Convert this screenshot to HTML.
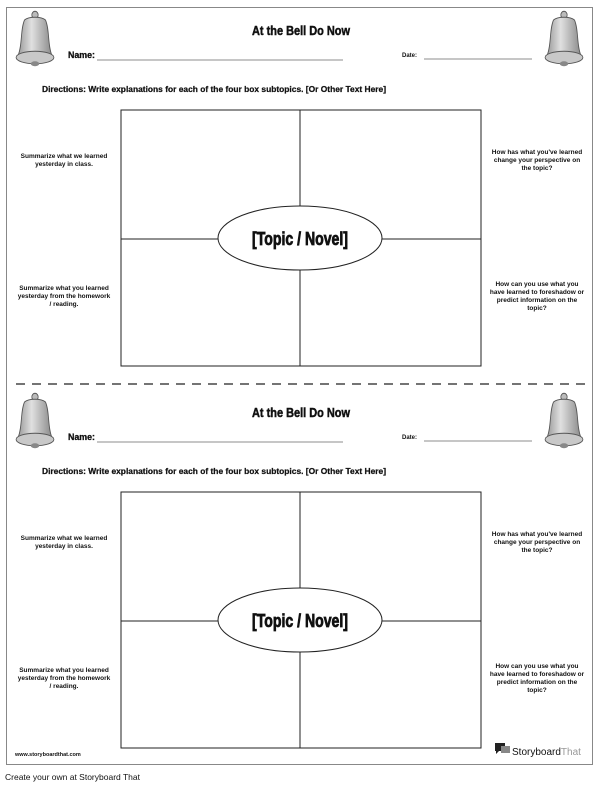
<!DOCTYPE html>
<html><head><meta charset="utf-8"><style>
body{margin:0;width:600px;height:786px;background:#fff;overflow:hidden}
svg{display:block}
text{font-family:"Liberation Sans Narrow","Liberation Sans",sans-serif;font-weight:bold;fill:#111}
.h{stroke:#111;stroke-width:.5}
</style></head><body>
<svg width="600" height="786" viewBox="0 0 600 786">
<defs>
<linearGradient id="bg" x1="0" x2="1"><stop offset="0" stop-color="#9a9a9a"/><stop offset=".4" stop-color="#e0e0e0"/><stop offset="1" stop-color="#8a8a8a"/></linearGradient>
<g id="bell">
<circle cx="0" cy="-24" r="3" fill="#bbb" stroke="#555" stroke-width=".8"/>
<path d="M-10,-20 C-14,-12 -12,0 -16,8 L16,8 C12,0 14,-12 10,-20 C6,-23 -6,-23 -10,-20Z" fill="url(#bg)" stroke="#555" stroke-width=".8"/>
<ellipse cx="0" cy="10" rx="18" ry="5" fill="#c8c8c8" stroke="#555" stroke-width=".8"/>
<ellipse cx="0" cy="15" rx="4" ry="2" fill="#888"/>
</g>
<g id="half">
<use href="#bell" transform="translate(35,45) scale(1.05,1.25)"/>
<use href="#bell" transform="translate(564,45) scale(1.05,1.25)"/>
<text class="h" x="252" y="35" font-size="13" textLength="98" lengthAdjust="spacingAndGlyphs">At the Bell Do Now</text>
<text x="68" y="58" font-size="9" textLength="27" lengthAdjust="spacingAndGlyphs" style="stroke:#111;stroke-width:.3">Name:</text>
<line x1="97" y1="60" x2="343" y2="60" stroke="#666" stroke-width=".8"/>
<text x="402" y="57" font-size="6">Date:</text>
<line x1="424" y1="59" x2="532" y2="59" stroke="#666" stroke-width=".8"/>
<text x="42" y="92" font-size="8.5" textLength="344" lengthAdjust="spacingAndGlyphs" style="stroke:#111;stroke-width:.25">Directions: Write explanations for each of the four box subtopics. [Or Other Text Here]</text>
<rect x="121" y="110" width="360" height="256" fill="none" stroke="#222" stroke-width="1"/>
<line x1="300" y1="110" x2="300" y2="366" stroke="#222"/>
<line x1="121" y1="239" x2="481" y2="239" stroke="#222"/>
<ellipse cx="300" cy="238" rx="82" ry="32" fill="#fff" stroke="#222"/>
<text class="h" x="252" y="245" font-size="18" textLength="96" lengthAdjust="spacingAndGlyphs" style="stroke-width:.8">[Topic / Novel]</text>
<g font-size="6.5" text-anchor="middle">
<text x="64" y="158">Summarize what we learned</text>
<text x="64" y="166">yesterday in class.</text>
<text x="64" y="290">Summarize what you learned</text>
<text x="64" y="298">yesterday from the homework</text>
<text x="64" y="306">/ reading.</text>
<text x="537" y="154">How has what you've learned</text>
<text x="537" y="162">change your perspective on</text>
<text x="537" y="170">the topic?</text>
<text x="537" y="286">How can you use what you</text>
<text x="537" y="294">have learned to foreshadow or</text>
<text x="537" y="302">predict information on the</text>
<text x="537" y="310">topic?</text>
</g>
</g>
</defs>
<rect x="6.5" y="7.5" width="586" height="757" fill="#fff" stroke="#888" stroke-width="1"/>
<use href="#half"/>
<line x1="16" y1="384" x2="586" y2="384" stroke="#222" stroke-width="1.2" stroke-dasharray="9,7"/>
<use href="#half" y="382"/>
<text x="15" y="756" font-size="5.5">www.storyboardthat.com</text>
<path d="M495,743 h10 v8 h-6 l-3,3 v-3 h-1z" fill="#222"/>
<rect x="501" y="746" width="9" height="7" fill="#888"/>
<text x="512" y="755" font-size="10" style="font-family:'Liberation Sans',sans-serif;font-weight:normal" fill="#444">Storyboard<tspan fill="#999">That</tspan></text>
<text x="5" y="780" font-size="8.5" style="font-family:'Liberation Sans',sans-serif;font-weight:normal">Create your own at Storyboard That</text>
</svg>
</body></html>
